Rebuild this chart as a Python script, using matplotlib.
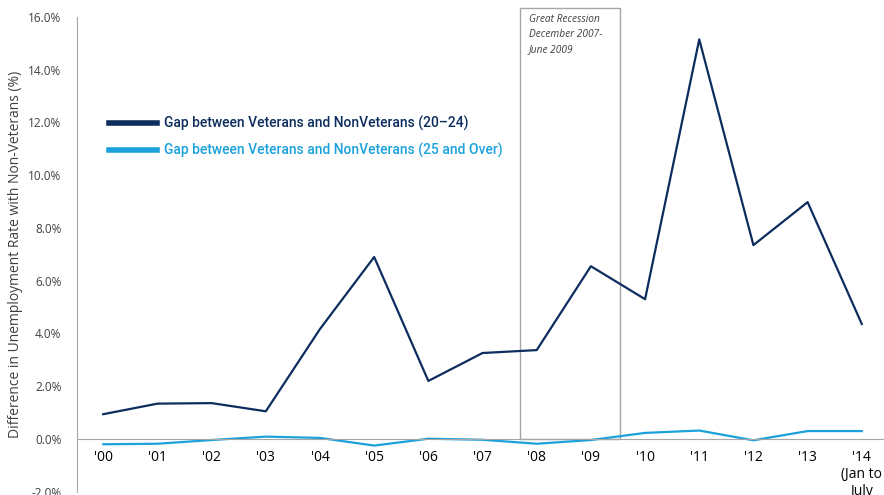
import numpy as np
import matplotlib
matplotlib.use("Agg")
import matplotlib.pyplot as plt
from matplotlib.patches import Rectangle
import matplotlib.ticker as mticker

# ── data ─────────────────────────────────────────────────────────────────────
years = ["'00", "'01", "'02", "'03", "'04", "'05", "'06", "'07",
         "'08", "'09", "'10", "'11", "'12", "'13", "'14\n(Jan to\nJuly"]
gap_20_24 = [0.94, 1.34, 1.36, 1.05, 4.17, 6.90, 2.20, 3.26,
             3.37, 6.55, 5.30, 15.15, 7.35, 8.98, 4.36]
gap_25_over = [-0.20, -0.18, -0.04, 0.09, 0.04, -0.25, 0.01, -0.03,
               -0.18, -0.04, 0.23, 0.32, -0.05, 0.30, 0.30]
recession = (7.69, 9.53)      # Dec 2007 - Jun 2009, in category units
yticks = np.arange(-2, 17, 2)

DARK = "#0C2D5E"
LIGHT = "#1BA1DB"
GRAY = "#A6A6A6"

plt.rcParams["font.family"] = ["Open Sans", "DejaVu Sans"]

fig = plt.figure(figsize=(8.84, 4.95), dpi=100)
ax = fig.add_axes([0.0868, 0.0066, 0.9132, 0.9591])

x = np.arange(len(years))
ax.plot(x, gap_20_24, color=DARK, lw=1.6,
        label="Gap between Veterans and NonVeterans (20\u201324)")
ax.plot(x, gap_25_over, color=LIGHT, lw=1.6,
        label="Gap between Veterans and NonVeterans (25 and Over)")

# recession box (runs a bit above the plot area)
ax.add_patch(Rectangle((recession[0], 0), recession[1] - recession[0], 16.33,
                       fill=False, edgecolor=GRAY, lw=1.0, clip_on=False, zorder=1))
ax.text(recession[0] + 0.16, 16.12, "Great Recession\nDecember 2007-\nJune 2009",
        fontsize=7.3, style="italic", color="#404040", va="top", ha="left",
        linespacing=1.55)

ax.set_xlim(-0.49, 14.41)
ax.set_ylim(-2, 16)
ax.set_yticks(yticks)
ax.yaxis.set_major_formatter(mticker.FuncFormatter(lambda v, p: f"{v:.1f}%"))
ax.tick_params(axis="y", length=0, pad=11, labelsize=8.5, labelcolor="#404040")

ax.set_xticks(x)
ax.set_xticklabels(years, fontsize=8.5, color="#404040", linespacing=1.6)
ax.tick_params(axis="x", length=0, pad=8)
ax.spines["bottom"].set_position(("data", 0))
ax.spines["bottom"].set_color(GRAY)
ax.spines["left"].set_color(GRAY)
ax.spines["top"].set_visible(False)
ax.spines["right"].set_visible(False)

ax.set_ylabel("Difference in Unemployment Rate with Non-Veterans (%)",
              fontsize=10, color="#404040", labelpad=4)

leg = ax.legend(loc="upper left", bbox_to_anchor=(0.025, 0.818), frameon=False,
                handlelength=3.4, handletextpad=0.5, labelspacing=0.85,
                prop={"family": ["Roboto", "DejaVu Sans"], "size": 10,
                      "weight": "medium"})
for line in leg.get_lines():
    line.set_linewidth(4)
for txt, c in zip(leg.get_texts(), [DARK, LIGHT]):
    txt.set_color(c)

fig.savefig("out.png", dpi=100)
